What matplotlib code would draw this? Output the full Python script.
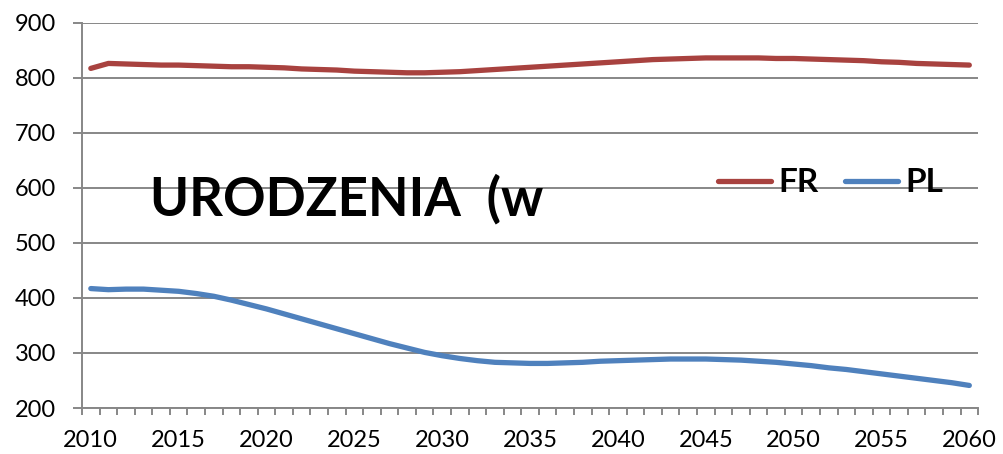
import numpy as np
import matplotlib.pyplot as plt
from matplotlib.ticker import MultipleLocator, FixedLocator

years = np.arange(2010, 2061)

fr = [817, 826, 825, 824, 823, 823, 822, 821, 820, 820,
      819, 818, 816, 815, 814, 812, 811, 810, 809, 809,
      810, 811, 813, 815, 817, 819, 821, 823, 825, 827,
      829, 831, 833, 834, 835, 836, 836, 836, 836, 835,
      835, 834, 833, 832, 831, 829, 828, 826, 825, 824,
      823]

pl = [417, 415, 416, 416, 414, 412, 408, 403, 396, 388,
      380, 371, 362, 353, 344, 335, 326, 317, 309, 301,
      295, 290, 286, 283, 282, 281, 281, 282, 283, 285,
      286, 287, 288, 289, 289, 289, 288, 287, 285, 283,
      280, 277, 273, 270, 266, 262, 258, 254, 250, 246,
      241]

xticks = list(range(2010, 2061, 5))
title = 'URODZENIA  (w'

plt.rcParams['font.family'] = ['Lato', 'DejaVu Sans']

fig = plt.figure(figsize=(10.04, 4.54), dpi=100)
ax = fig.add_axes([0.0817, 0.1013, 0.8925, 0.8487])

grey = '#878787'
ax.plot(years, fr, color='#A8423F', lw=3.8, solid_capstyle='round', label='FR', zorder=3)
ax.plot(years, pl, color='#4F81BD', lw=3.8, solid_capstyle='round', label='PL', zorder=3)

ax.set_xlim(2009.5, 2060.5)
ax.set_ylim(200, 900)
ax.yaxis.set_major_locator(MultipleLocator(100))
ax.set_xticks(xticks)
ax.set_xticklabels([str(x) for x in xticks])
ax.xaxis.set_minor_locator(FixedLocator(np.arange(2009.5, 2061, 1)))

ax.grid(axis='y', color=grey, lw=1.4)
ax.set_axisbelow(True)
for s in ['top', 'right']:
    ax.spines[s].set_visible(False)
for s in ['left', 'bottom']:
    ax.spines[s].set_color(grey)
    ax.spines[s].set_linewidth(1.4)

ax.tick_params(axis='y', direction='out', length=6.5, width=1.4, color=grey,
               labelsize=17, pad=12)
ax.tick_params(axis='x', which='major', length=0, labelsize=17, pad=16)
ax.tick_params(axis='x', which='minor', direction='out', length=5, width=1.4, color=grey)

fig.text(150/1004, 1 - 215/454, title, fontsize=38, fontweight='bold',
         va='baseline', ha='left')

ax.legend(loc='center left', bbox_to_anchor=(718/1004, 1 - 183/454),
          bbox_transform=fig.transFigure, ncol=2, frameon=False,
          prop={'size': 24, 'weight': 'bold'}, handlelength=1.6,
          handletextpad=0.2, columnspacing=0.8, borderpad=0, borderaxespad=0)

plt.savefig('out.png', dpi=100)
